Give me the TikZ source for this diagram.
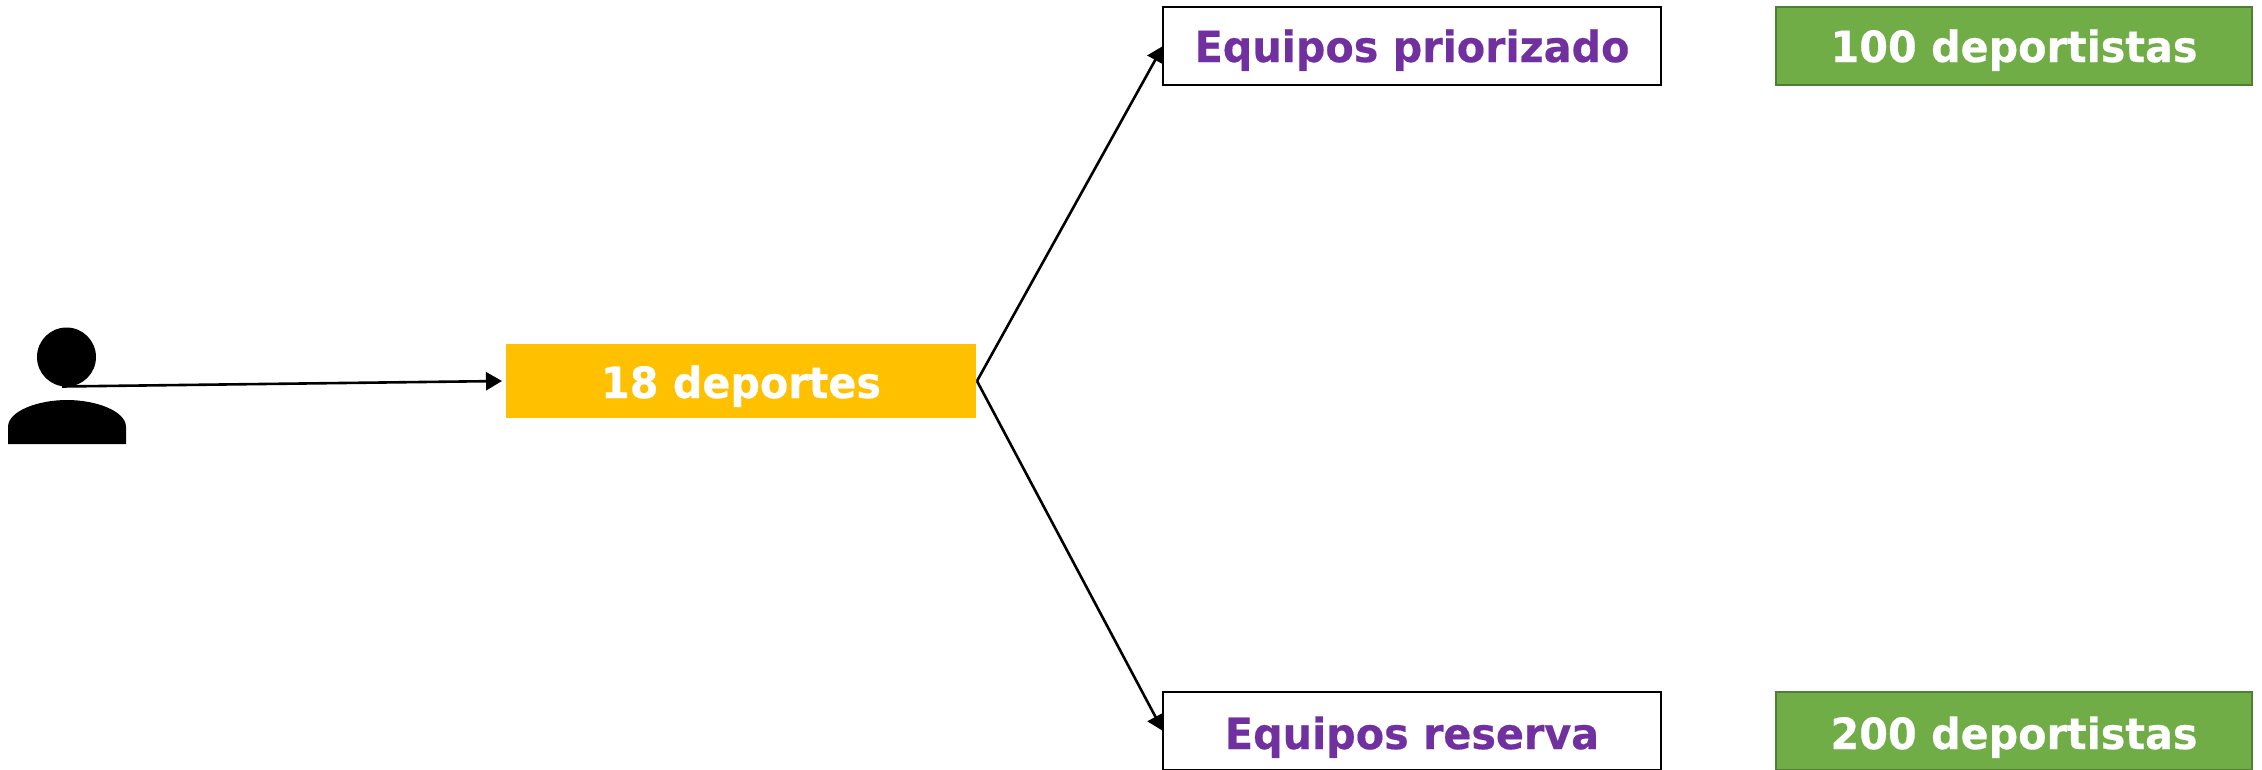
\documentclass[tikz,border=0pt]{standalone}
\usepackage{fontspec}
\setmainfont[BoldFeatures={FakeStretch=0.96,FakeBold=0.4}]{DejaVu Sans}
\usetikzlibrary{arrows.meta}
\definecolor{purp}{HTML}{7030A0}
\definecolor{grn}{HTML}{70AD47}
\definecolor{grnd}{HTML}{507E32}
\definecolor{org}{HTML}{FFC000}
\tikzset{
  boxbase/.style={rectangle,inner sep=0pt,outer sep=0pt,align=center,font=\fontsize{43}{50}\selectfont\bfseries},
  teambox/.style={boxbase,draw=black,line width=2pt,fill=white,text=purp,minimum width=498pt},
  countbox/.style={boxbase,draw=grnd,line width=2pt,fill=grn,text=white,minimum width=476pt},
  sportbox/.style={boxbase,fill=org,text=white,minimum width=470pt},
  conn/.style={draw=black,line width=2.6pt,-{Triangle[length=16pt,width=18pt]}}
}
\begin{document}
\begin{tikzpicture}[x=1pt,y=-1pt]
\useasboundingbox (0,0) rectangle (2262,769);
% anchors for connectors
\coordinate (pstart) at (62,386.5);
\coordinate (fork) at (977,381);
\coordinate (sportin) at (502,381);
\coordinate (topin) at (1163,46);
\coordinate (botin) at (1163,731);
% connectors first, boxes cover the arrow tips
\draw[conn] (fork) -- (topin);
\draw[conn] (fork) -- (botin);
% person
\node[circle,fill=black,inner sep=0pt,outer sep=0pt,minimum size=59pt] (head) at (66.5,357) {};
\fill[black] (8,444) -- (8,427) .. controls (8,411) and (38,400) .. (67,400)
  .. controls (96,400) and (126,411) .. (126,427) -- (126,444) -- cycle;
% boxes
\node[sportbox,text height=54pt,text depth=20pt,anchor=north west] (sport) at (506,344) {18 deportes};
\node[teambox,text height=55pt,text depth=23pt,anchor=north west] (top) at (1163,7) {Equipos priorizado};
\node[teambox,text height=57pt,text depth=21pt,anchor=north west] (bot) at (1163,692) {Equipos reserva};
\node[countbox,text height=55pt,text depth=23pt,anchor=north west] (c1) at (1776,7) {100 deportistas};
\node[countbox,text height=57pt,text depth=21pt,anchor=north west] (c2) at (1776,692) {200 deportistas};
\draw[conn] (pstart) -- (sportin);
\end{tikzpicture}
\end{document}
